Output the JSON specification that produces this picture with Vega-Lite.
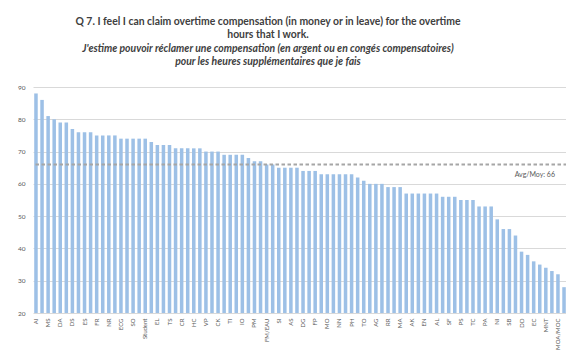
{
  "$schema": "https://vega.github.io/schema/vega-lite/v6.json",
  "width": 534,
  "height": 226,
  "autosize": {"type": "none"},
  "padding": {"left": 33, "top": 87, "right": 0, "bottom": 37},
  "background": "white",
  "config": {"view": {"stroke": null}, "font": "Lato"},
  "title": {
    "text": ["Q 7. I feel I can claim overtime compensation (in money or in leave) for the overtime", "hours that I work."],
    "subtitle": ["J'estime pouvoir réclamer une compensation (en argent ou en congés compensatoires)", "pour les heures supplémentaires que je fais"],
    "anchor": "middle",
    "dx": -32,
    "fontSize": 10.4,
    "fontWeight": "bold",
    "color": "#404040",
    "lineHeight": 13,
    "subtitleFontSize": 10.4,
    "subtitleFontStyle": "italic",
    "subtitleFontWeight": "bold",
    "subtitleColor": "#404040",
    "subtitleLineHeight": 12.5,
    "subtitlePadding": 4,
    "offset": 17
  },
  "encoding": {
    "y": {
      "field": "value", "type": "quantitative",
      "scale": {"domain": [20, 90], "zero": false, "nice": false},
      "axis": {
        "title": null, "values": [20, 30, 40, 50, 60, 70, 80, 90], "grid": true, "gridColor": "#d9d9d9",
        "domain": false, "ticks": false, "labelFontSize": 6.5, "labelColor": "#595959", "labelPadding": 8,
        "labelOverlap": false, "labelBound": false, "labelFlush": false
      }
    }
  },
  "layer": [
    {
      "data": {"values": [
        {"group": "AI", "value": 88}, {"group": "AV", "value": 86}, {"group": "MS", "value": 81}, {"group": "CS", "value": 80},
        {"group": "DA", "value": 79}, {"group": "RE", "value": 79}, {"group": "DS", "value": 77}, {"group": "SH", "value": 76},
        {"group": "ES", "value": 76}, {"group": "SP", "value": 76}, {"group": "FR", "value": 75}, {"group": "AU", "value": 75},
        {"group": "NR", "value": 75}, {"group": "PC", "value": 75}, {"group": "ECG", "value": 74}, {"group": "EG", "value": 74},
        {"group": "SO", "value": 74}, {"group": "BI", "value": 74}, {"group": "Student", "value": 74}, {"group": "CH", "value": 73},
        {"group": "EL", "value": 72}, {"group": "FO", "value": 72}, {"group": "TS", "value": 72}, {"group": "MT", "value": 71},
        {"group": "CR", "value": 71}, {"group": "PE", "value": 71}, {"group": "HC", "value": 71}, {"group": "IS", "value": 71},
        {"group": "VP", "value": 70}, {"group": "PG", "value": 70}, {"group": "CK", "value": 70}, {"group": "AR", "value": 69},
        {"group": "TI", "value": 69}, {"group": "ED", "value": 69}, {"group": "IO", "value": 69}, {"group": "LS", "value": 68},
        {"group": "PM", "value": 67}, {"group": "LP", "value": 67}, {"group": "FM/EAU", "value": 66}, {"group": "OP", "value": 66},
        {"group": "SI", "value": 65}, {"group": "ND", "value": 65}, {"group": "AS", "value": 65}, {"group": "NU", "value": 65},
        {"group": "DG", "value": 64}, {"group": "DE", "value": 64}, {"group": "FP", "value": 64}, {"group": "EU", "value": 63},
        {"group": "MO", "value": 63}, {"group": "GT", "value": 63}, {"group": "NN", "value": 63}, {"group": "HR", "value": 63},
        {"group": "PH", "value": 63}, {"group": "IR", "value": 62}, {"group": "TO", "value": 61}, {"group": "LI", "value": 60},
        {"group": "AG", "value": 60}, {"group": "MD", "value": 60}, {"group": "RR", "value": 59}, {"group": "OE", "value": 59},
        {"group": "MA", "value": 59}, {"group": "PY", "value": 57}, {"group": "AK", "value": 57}, {"group": "RO", "value": 57},
        {"group": "EN", "value": 57}, {"group": "SG", "value": 57}, {"group": "AL", "value": 57}, {"group": "SW", "value": 56},
        {"group": "SF", "value": 56}, {"group": "TR", "value": 56}, {"group": "PS", "value": 55}, {"group": "UT", "value": 55},
        {"group": "TC", "value": 55}, {"group": "VM", "value": 53}, {"group": "PA", "value": 53}, {"group": "WP", "value": 53},
        {"group": "NI", "value": 49}, {"group": "FI", "value": 46}, {"group": "SB", "value": 46}, {"group": "CO", "value": 44},
        {"group": "DD", "value": 39}, {"group": "CX", "value": 38}, {"group": "EC", "value": 36}, {"group": "EX", "value": 35},
        {"group": "MNT", "value": 34}, {"group": "HP", "value": 33}, {"group": "MOA/MOC", "value": 32}, {"group": "PR", "value": 28}
      ]},
      "mark": {"type": "bar", "color": "#9dc0e6", "clip": true},
      "encoding": {
        "x": {
          "field": "group", "type": "nominal", "sort": null,
          "scale": {"paddingInner": 0.42, "paddingOuter": 0.2},
          "axis": {
            "title": null, "labelAngle": -90, "labelFontSize": 6, "labelColor": "#595959",
            "ticks": false, "domain": false, "grid": false, "labelPadding": 5, "labelOverlap": false,
            "labelExpr": "round(datum.index * 87) % 2 == 0 ? datum.label : ''"
          }
        },
        "y2": {"datum": 20}
      }
    },
    {
      "data": {"values": [{"value": 66, "label": "Avg/Moy: 66"}]},
      "mark": {"type": "rule", "strokeDash": [3.5, 2.5], "color": "#a6a6a6", "strokeWidth": 1.8},
      "encoding": {}
    },
    {
      "data": {"values": [{"value": 66, "label": "Avg/Moy: 66"}]},
      "mark": {"type": "text", "align": "right", "baseline": "middle", "dy": 11, "dx": -3, "fontSize": 7, "color": "#595959"},
      "encoding": {
        "x": {"datum": "MOA/MOC"},
        "text": {"field": "label"}
      }
    }
  ]
}
